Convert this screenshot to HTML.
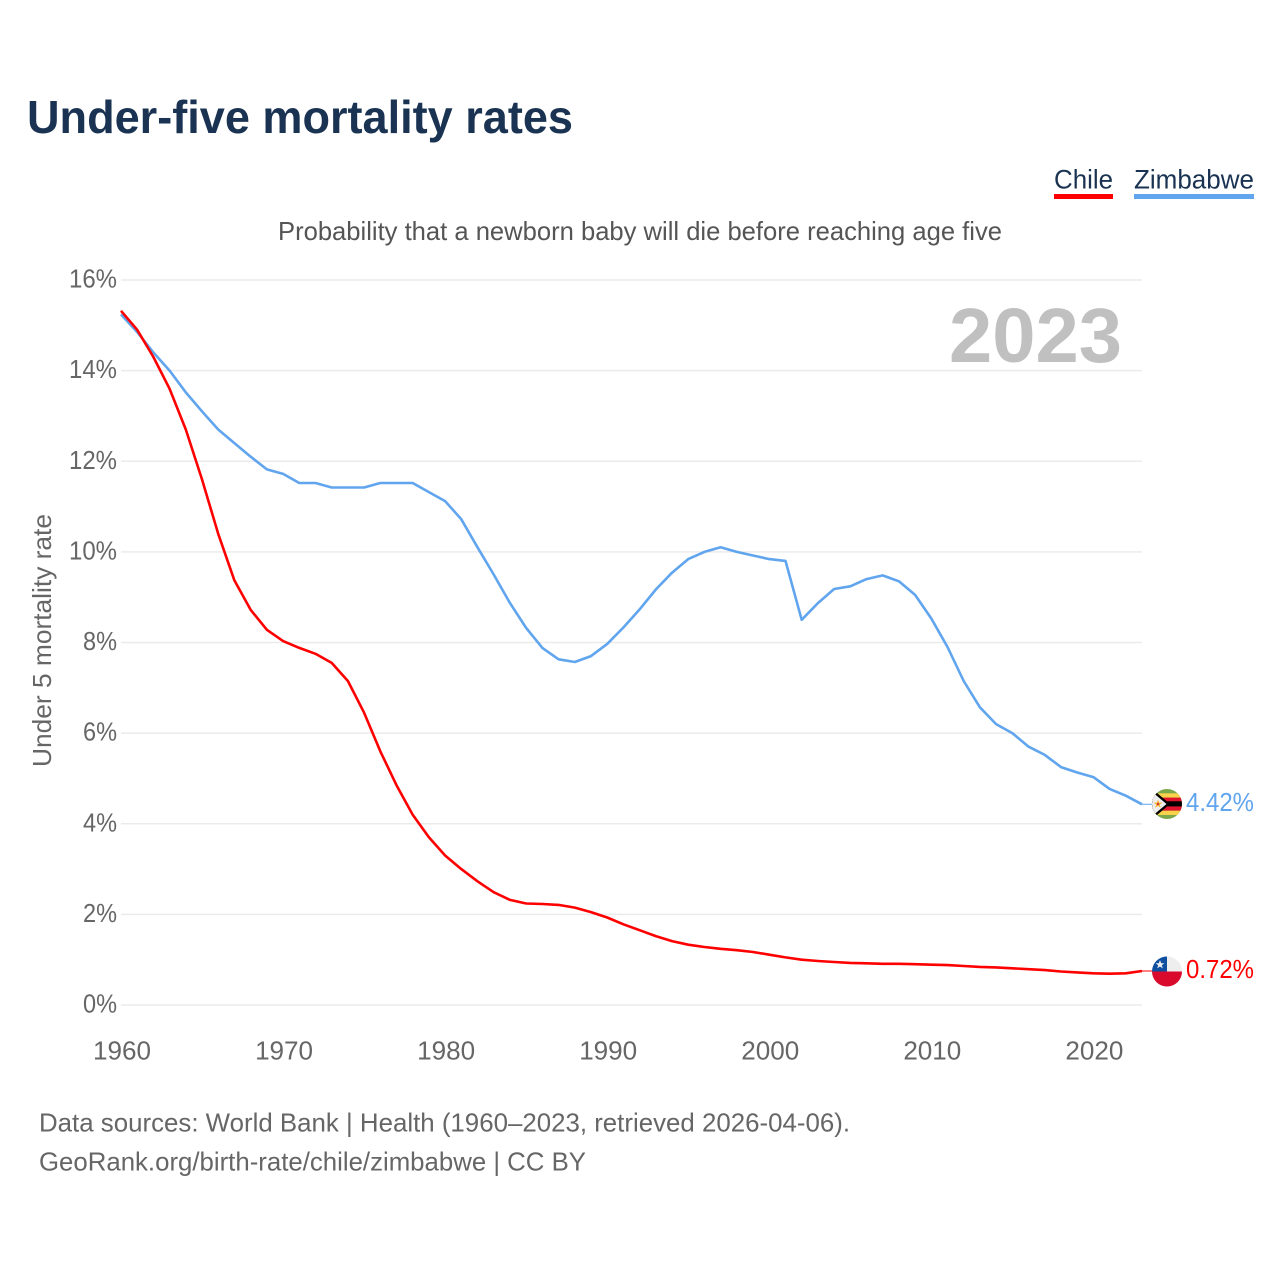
<!DOCTYPE html>
<html lang="en">
<head>
<meta charset="utf-8">
<title>Under-five mortality rates</title>
<style>
html,body{margin:0;padding:0;background:#fff;width:1280px;height:1280px;overflow:hidden}
svg{display:block}
text{font-family:"Liberation Sans",sans-serif}
</style>
</head>
<body>
<svg id="chart" width="1280" height="1280" viewBox="0 0 1280 1280" xmlns="http://www.w3.org/2000/svg">
  <defs>
    <clipPath id="clip-zw"><circle cx="1167" cy="804" r="15"/></clipPath>
    <clipPath id="clip-cl"><circle cx="1167" cy="971.5" r="15"/></clipPath>
  </defs>
  <rect width="1280" height="1280" fill="#fff"/>
  <text x="27" y="133" font-size="46" font-weight="700" fill="#1a3352" textLength="546" lengthAdjust="spacingAndGlyphs">Under-five mortality rates</text>

  <g>
    <g>
      <text x="1054" y="188.5" font-size="27" fill="#1a3352" textLength="59" lengthAdjust="spacingAndGlyphs">Chile</text>
      <rect x="1054" y="194" width="59" height="5" fill="#ff0000"/>
    </g>
    <g>
      <text x="1134" y="188.5" font-size="27" fill="#1a3352" textLength="120" lengthAdjust="spacingAndGlyphs">Zimbabwe</text>
      <rect x="1134" y="194" width="120" height="5" fill="#60a5ee"/>
    </g>
  </g>

  <text x="278" y="240" font-size="26" fill="#555" textLength="724" lengthAdjust="spacingAndGlyphs">Probability that a newborn baby will die before reaching age five</text>
  <text transform="translate(51,767) rotate(-90)" x="0" y="0" font-size="26" fill="#666" textLength="253" lengthAdjust="spacingAndGlyphs">Under 5 mortality rate</text>

  <g id="grid"></g>
  <g id="yticks"></g>
  <g id="xticks"></g>

  <text x="949" y="362" font-size="77" font-weight="700" fill="#c0c0c0" textLength="173" lengthAdjust="spacingAndGlyphs">2023</text>

  <g id="lines"></g>

  <g clip-path="url(#clip-zw)">
    <rect x="1152" y="789" width="30" height="30" fill="#7ba84a"/>
    <rect x="1152" y="793.3" width="30" height="4.3" fill="#f7d24a"/>
    <rect x="1152" y="797.6" width="30" height="4.3" fill="#e0142c"/>
    <rect x="1152" y="801.3" width="30" height="5.4" fill="#000"/>
    <rect x="1152" y="806.4" width="30" height="4.3" fill="#e0142c"/>
    <rect x="1152" y="810.7" width="30" height="4.3" fill="#f7d24a"/>
    <polygon points="1150,787 1170,804 1150,821" fill="#000"/>
    <polygon points="1150,790 1166.5,804 1150,818" fill="#eeeeee"/>
    <polygon points="1158,799.5 1159.2,802.6 1162.4,802.6 1159.8,804.6 1160.8,807.8 1158,805.9 1155.2,807.8 1156.2,804.6 1153.6,802.6 1156.8,802.6" fill="#f2b838"/>
    <circle cx="1158" cy="804" r="1.2" fill="#d8333a"/>
  </g>
  <g clip-path="url(#clip-cl)">
    <rect x="1152" y="956" width="30" height="16" fill="#eeeeee"/>
    <rect x="1152" y="956" width="15" height="16" fill="#0f4fa0"/>
    <rect x="1152" y="971.5" width="30" height="16" fill="#d90a2c"/>
    <polygon points="1160,960 1161.2,963.2 1164.4,963.2 1161.8,965.2 1162.8,968.4 1160,966.5 1157.2,968.4 1158.2,965.2 1155.6,963.2 1158.8,963.2" fill="#eeeeee"/>
  </g>

  <text id="label-zw" x="1186" y="811" font-size="26" fill="#60a5ee" textLength="68" lengthAdjust="spacingAndGlyphs">4.42%</text>
  <text id="label-cl" x="1186" y="978" font-size="26" fill="#ff0000" textLength="68" lengthAdjust="spacingAndGlyphs">0.72%</text>

  <text x="39" y="1131.5" font-size="26" fill="#666" textLength="811" lengthAdjust="spacingAndGlyphs">Data sources: World Bank | Health (1960–2023, retrieved 2026-04-06).</text>
  <text x="39" y="1170.5" font-size="26" fill="#666" textLength="547" lengthAdjust="spacingAndGlyphs">GeoRank.org/birth-rate/chile/zimbabwe | CC BY</text>
</svg>
<script>
const startYear = 1960;
const endYear = 2023;
const yTicks = [0, 2, 4, 6, 8, 10, 12, 14, 16];
const xTicks = [1960, 1970, 1980, 1990, 2000, 2010, 2020];
const chileValues = [15.32, 14.9, 14.3, 13.6, 12.7, 11.6, 10.4, 9.37, 8.72, 8.28, 8.03, 7.88, 7.75, 7.55, 7.15, 6.45, 5.6, 4.85, 4.2, 3.7, 3.3, 3.0, 2.73, 2.49, 2.32, 2.24, 2.23, 2.21, 2.15, 2.05, 1.93, 1.78, 1.65, 1.52, 1.41, 1.33, 1.28, 1.24, 1.21, 1.17, 1.11, 1.05, 1.0, 0.97, 0.95, 0.93, 0.92, 0.91, 0.91, 0.9, 0.89, 0.88, 0.86, 0.84, 0.83, 0.81, 0.79, 0.77, 0.74, 0.72, 0.7, 0.69, 0.7, 0.75];
const zimbabweValues = [15.24, 14.85, 14.4, 14.0, 13.52, 13.1, 12.7, 12.4, 12.1, 11.82, 11.72, 11.52, 11.52, 11.42, 11.42, 11.42, 11.52, 11.52, 11.52, 11.32, 11.12, 10.72, 10.1, 9.5, 8.87, 8.32, 7.88, 7.63, 7.57, 7.7, 7.97, 8.33, 8.73, 9.17, 9.54, 9.84, 10.0, 10.1, 10.0, 9.92, 9.84, 9.8, 8.5, 8.87, 9.18, 9.24, 9.4, 9.48, 9.35, 9.05, 8.53, 7.9, 7.15, 6.57, 6.2, 6.0, 5.7, 5.52, 5.25, 5.13, 5.03, 4.77, 4.62, 4.43];

const NS = 'http://www.w3.org/2000/svg';
const plotLeft = 121, plotRight = 1142, plotBottom = 1005, plotTop = 280;
const yMax = yTicks[yTicks.length - 1];
function xScale(year) {
  return plotLeft + (year - startYear) * (plotRight - plotLeft) / (endYear - startYear);
}
function yScale(v) {
  return plotBottom - v * (plotBottom - plotTop) / yMax;
}
function make(tag, attrs, parent) {
  const el = document.createElementNS(NS, tag);
  for (const k in attrs) el.setAttribute(k, attrs[k]);
  parent.appendChild(el);
  return el;
}
const grid = document.getElementById('grid');
const yTickGroup = document.getElementById('yticks');
const xTickGroup = document.getElementById('xticks');
const lines = document.getElementById('lines');

yTicks.forEach(function (t) {
  const line = make('line', {x1: plotLeft, x2: plotRight, y1: yScale(t), y2: yScale(t), stroke: '#ebebeb', 'stroke-width': 1.5}, grid);
  
  
  const label = t + '%';
  const lab = make('text', {x: 117 - (label.length === 2 ? 34 : 48), y: yScale(t) + 7.5, 'font-size': 26, fill: '#666', textLength: label.length === 2 ? 34 : 48, lengthAdjust: 'spacingAndGlyphs'}, yTickGroup);
  lab.textContent = label;
  
  
});

xTicks.forEach(function (t) {
  const lab = make('text', {x: xScale(t) - 28, y: 1059.5, 'font-size': 26, fill: '#666', textLength: 58, lengthAdjust: 'spacingAndGlyphs'}, xTickGroup);
  lab.textContent = String(t);
  
  
});

function drawSeries(values, color) {
  const pts = values.map(function (v, i) {
    return xScale(startYear + i).toFixed(1) + ',' + yScale(v).toFixed(1);
  }).join(' ');
  return make('polyline', {points: pts, fill: 'none', stroke: color, 'stroke-width': 2.6, 'stroke-linejoin': 'round'}, lines);
}
function drawLeader(values, color) {
  const yEnd = yScale(values[values.length - 1]);
  return make('line', {x1: xScale(endYear), x2: 1152, y1: yEnd, y2: yEnd, stroke: color, 'stroke-width': 1}, lines);
}

const zimbabweLine = drawSeries(zimbabweValues, '#60a5ee');


const chileLine = drawSeries(chileValues, '#ff0000');


const zimbabweLeader = drawLeader(zimbabweValues, '#60a5ee');


const chileLeader = drawLeader(chileValues, '#ff0000');


</script>
</body>
</html>
